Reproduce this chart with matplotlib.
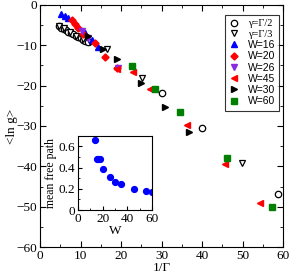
import matplotlib
matplotlib.use("Agg")
import matplotlib.pyplot as plt
from matplotlib.ticker import MultipleLocator

# ---- data ----
g2_x = [4.6, 5.2, 5.8, 6.4, 7.0, 7.6, 8.2, 8.8, 9.4, 10.0, 10.6, 11.2, 11.8, 30.0, 40.0, 58.7]
g2_y = [-5.3, -5.6, -6.0, -6.3, -6.6, -7.0, -7.3, -7.6, -8.0, -8.3, -8.6, -9.0, -9.3, -21.9, -30.6, -46.9]
g3_x = [4.8, 6.0, 7.5, 9.0, 10.5, 12.3, 16.5, 25.1, 49.8]
g3_y = [-5.2, -5.8, -6.7, -7.6, -8.4, -9.2, -11.0, -18.0, -39.1]
w16_x = [5.3, 6.2, 7.0, 11.1, 12.8, 14.4]
w16_y = [-2.3, -2.7, -3.3, -6.9, -8.7, -10.3]
w20_x = [7.8, 8.6, 9.5, 10.7, 13.6, 16.0, 19.0]
w20_y = [-3.7, -4.8, -5.8, -7.2, -9.5, -12.8, -15.7]
w26_x = [10.3, 11.9, 19.3]
w26_y = [-6.4, -8.3, -15.7]
w45_x = [18.9, 22.9, 27.2, 36.4, 45.7, 54.3]
w45_y = [-15.9, -16.5, -20.9, -29.8, -39.4, -49.0]
w30_x = [11.9, 15.6, 18.9, 24.9, 30.9, 36.8]
w30_y = [-7.6, -10.8, -13.3, -19.3, -25.2, -31.4]
w60_x = [22.6, 28.4, 34.6, 46.1, 57.2]
w60_y = [-15.1, -20.9, -26.5, -38.0, -50.0]

inset_W = [14, 15, 16, 18, 20, 26, 30, 35, 45, 55, 60]
inset_mfp = [0.66, 0.48, 0.48, 0.48, 0.39, 0.31, 0.265, 0.244, 0.20, 0.178, 0.17]

serif = "Liberation Serif"
sans = "Liberation Sans"

fig = plt.figure(figsize=(2.91, 2.76), dpi=100)
ax = fig.add_axes([0.1375, 0.105, 0.835, 0.877])

ms = 4.6
ax.plot(g2_x, g2_y, 'o', mfc='white', mec='black', mew=0.9, ms=ms, ls='none', label='γ=Γ/2')
ax.plot(g3_x, g3_y, 'v', mfc='white', mec='black', mew=0.9, ms=ms, ls='none', label='γ=Γ/3')
ax.plot(w16_x, w16_y, '^', color='#0000ff', ms=ms, ls='none', label='W=16')
ax.plot(w20_x, w20_y, 'D', color='#ff0000', ms=ms - 1, ls='none', label='W=20')
ax.plot(w26_x, w26_y, 'v', color='#8a2be2', ms=ms, ls='none', label='W=26')
ax.plot(w45_x, w45_y, '<', color='#ff0000', ms=ms, ls='none', label='W=45')
ax.plot(w30_x, w30_y, '>', color='black', ms=ms, ls='none', label='W=30')
ax.plot(w60_x, w60_y, 's', color='#008000', ms=ms - 0.6, ls='none', label='W=60')

ax.set_xlim(0, 60)
ax.set_ylim(-60, 0)
ax.xaxis.set_major_locator(MultipleLocator(10))
ax.xaxis.set_minor_locator(MultipleLocator(5))
ax.yaxis.set_major_locator(MultipleLocator(10))
ax.yaxis.set_minor_locator(MultipleLocator(5))
ax.tick_params(which='both', direction='in', top=True, right=True, labelsize=9.5, pad=2)
ax.tick_params(which='major', length=4)
ax.tick_params(which='minor', length=2)
for t in ax.get_xticklabels() + ax.get_yticklabels():
    t.set_fontfamily(serif)
ax.set_xlabel('1/Γ', fontfamily=serif, fontsize=9.5, labelpad=0.5)
ax.set_ylabel('<ln g>', fontfamily=serif, fontsize=9.5, labelpad=-1)

leg = ax.legend(loc='upper right', bbox_to_anchor=(0.985, 0.959), fontsize=7.5, frameon=True,
                fancybox=False, edgecolor='black', handletextpad=0.8, labelspacing=0.12,
                borderpad=0.4, handlelength=1.0, borderaxespad=0)
leg.get_frame().set_linewidth(0.8)
for i, t in enumerate(leg.get_texts()):
    t.set_fontfamily(serif if i < 2 else sans)

ins = fig.add_axes([0.268, 0.239, 0.255, 0.269])
ins.plot(inset_W, inset_mfp, 'o', color='#0000ff', ms=4.2, ls='none')
ins.set_xlim(0, 60)
ins.set_ylim(0, 0.7)
ins.xaxis.set_major_locator(MultipleLocator(20))
ins.xaxis.set_minor_locator(MultipleLocator(10))
ins.yaxis.set_major_locator(MultipleLocator(0.2))
ins.yaxis.set_minor_locator(MultipleLocator(0.1))
ins.tick_params(which='both', direction='in', labelsize=9.5, pad=2)
ins.tick_params(which='major', length=3)
ins.tick_params(which='minor', length=1.5)
ins.set_yticks([0, 0.2, 0.4, 0.6])
ins.set_yticklabels(['0', '0.2', '0.4', '0.6'])
for t in ins.get_xticklabels() + ins.get_yticklabels():
    t.set_fontfamily(serif)
ins.set_xlabel('W', fontfamily=serif, fontsize=9.5, labelpad=0)
ins.set_ylabel('mean free path', fontfamily=serif, fontsize=8.5, labelpad=1)

fig.savefig('out.png', dpi=100)
